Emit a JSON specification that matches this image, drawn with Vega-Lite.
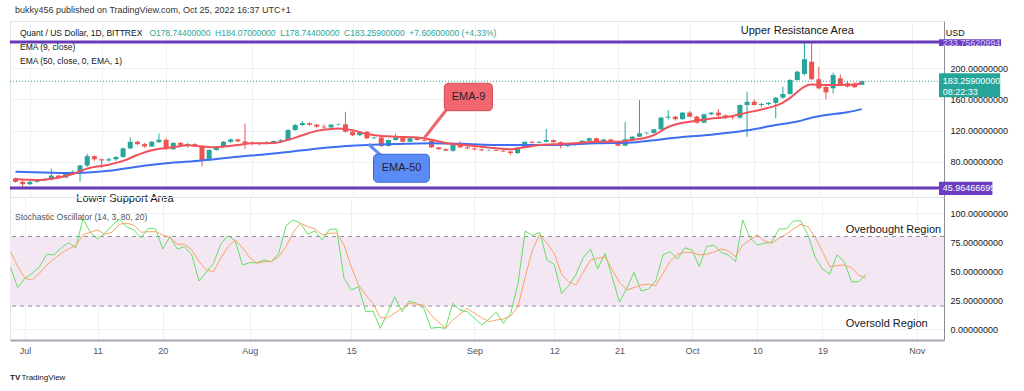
{
  "$schema": "https://vega.github.io/schema/vega-lite/v6.json",
  "background": "white",
  "padding": {"left": 8, "top": 5, "right": 10, "bottom": 3},
  "bounds": "flush",
  "spacing": 0,
  "config": {
    "font": "Liberation Sans",
    "view": {"stroke": "#e0e3eb"},
    "axis": {"labelFont": "Liberation Sans", "labelFontSize": 9, "labelColor": "#131722", "gridColor": "#edf0f5", "ticks": false, "title": null, "labelOverlap": false},
    "text": {"font": "Liberation Sans"}
  },
  "datasets": {
    "ohlc": [
      {"t":"2022-06-29","o":58.5,"h":59.5,"l":53,"c":54,"k":53.1,"d":66.9},
      {"t":"2022-06-30","o":54,"h":56,"l":46,"c":51,"k":35.9,"d":54.0},
      {"t":"2022-07-01","o":51,"h":55,"l":50,"c":54,"k":44.0,"d":44.0},
      {"t":"2022-07-02","o":54,"h":56.5,"l":53,"c":55.5,"k":48.3,"d":42.5},
      {"t":"2022-07-03","o":55.5,"h":58,"l":55,"c":57,"k":54.0,"d":48.3},
      {"t":"2022-07-04","o":57,"h":71,"l":56,"c":62,"k":64.7,"d":55.4},
      {"t":"2022-07-05","o":62,"h":63,"l":57.5,"c":59.5,"k":64.1,"d":60.6},
      {"t":"2022-07-06","o":59.5,"h":66,"l":59,"c":64.5,"k":70.3,"d":65.5},
      {"t":"2022-07-07","o":64.5,"h":69,"l":63.5,"c":67,"k":74.7,"d":69.2},
      {"t":"2022-07-08","o":66,"h":76,"l":54,"c":75,"k":70.3,"d":72.1},
      {"t":"2022-07-09","o":75,"h":90,"l":73,"c":87,"k":95.1,"d":81.3},
      {"t":"2022-07-10","o":87,"h":88,"l":81,"c":83,"k":83.6,"d":83.6},
      {"t":"2022-07-11","o":83,"h":84,"l":72,"c":81.5,"k":77.8,"d":85.6},
      {"t":"2022-07-12","o":81.5,"h":85,"l":80,"c":83,"k":82.8,"d":81.9},
      {"t":"2022-07-13","o":83,"h":87,"l":81,"c":86,"k":89.3,"d":83.6},
      {"t":"2022-07-14","o":86,"h":98,"l":85,"c":97,"k":95.1,"d":90.5},
      {"t":"2022-07-15","o":97,"h":111,"l":96,"c":105.5,"k":88.4,"d":91.4},
      {"t":"2022-07-16","o":105.5,"h":107,"l":101,"c":102.5,"k":85.6,"d":89.9},
      {"t":"2022-07-17","o":102.5,"h":104,"l":98,"c":99.5,"k":79.0,"d":83.6},
      {"t":"2022-07-18","o":99.5,"h":106.5,"l":99,"c":105.5,"k":87.1,"d":84.1},
      {"t":"2022-07-19","o":105,"h":116,"l":104,"c":108,"k":86.5,"d":84.1},
      {"t":"2022-07-20","o":108,"h":110,"l":95,"c":96,"k":69.2,"d":81.3},
      {"t":"2022-07-21","o":96,"h":105,"l":95,"c":104,"k":79.8,"d":79.0},
      {"t":"2022-07-22","o":104,"h":105,"l":100,"c":101.5,"k":69.2,"d":73.3},
      {"t":"2022-07-23","o":101,"h":104,"l":98,"c":102.5,"k":71.2,"d":73.3},
      {"t":"2022-07-24","o":102.5,"h":103.5,"l":99,"c":100,"k":64.1,"d":68.4},
      {"t":"2022-07-25","o":100,"h":101,"l":74,"c":82,"k":41.6,"d":58.3},
      {"t":"2022-07-26","o":82,"h":96,"l":81,"c":95,"k":49.1,"d":51.1},
      {"t":"2022-07-27","o":95,"h":100,"l":94,"c":99,"k":56.9,"d":49.7},
      {"t":"2022-07-28","o":99,"h":106.5,"l":98,"c":105.5,"k":73.3,"d":61.2},
      {"t":"2022-07-29","o":105.5,"h":110,"l":104,"c":108.5,"k":80.7,"d":71.2},
      {"t":"2022-07-30","o":108.5,"h":109.5,"l":105,"c":106,"k":76.1,"d":77.0},
      {"t":"2022-07-31","o":106,"h":129,"l":96,"c":104,"k":55.4,"d":70.3},
      {"t":"2022-08-01","o":104,"h":106,"l":101,"c":103.5,"k":57.4,"d":61.7},
      {"t":"2022-08-02","o":103.5,"h":105,"l":101,"c":103,"k":57.4,"d":56.9},
      {"t":"2022-08-03","o":103,"h":106,"l":102,"c":104.5,"k":59.7,"d":58.3},
      {"t":"2022-08-04","o":104.5,"h":107.5,"l":103.5,"c":106.5,"k":58.3,"d":58.3},
      {"t":"2022-08-05","o":106.5,"h":109,"l":104,"c":107.5,"k":65.5,"d":62.6},
      {"t":"2022-08-06","o":107.5,"h":122,"l":107,"c":120.5,"k":89.1,"d":71.2},
      {"t":"2022-08-07","o":120.5,"h":128.5,"l":120,"c":127,"k":94.2,"d":83.6},
      {"t":"2022-08-08","o":127,"h":132,"l":126,"c":129.5,"k":91.4,"d":91.4},
      {"t":"2022-08-09","o":129.5,"h":130.5,"l":126,"c":127.5,"k":81.9,"d":88.4},
      {"t":"2022-08-10","o":127.5,"h":128.5,"l":123.5,"c":125,"k":84.7,"d":86.5},
      {"t":"2022-08-11","o":125,"h":128,"l":122,"c":124,"k":77.0,"d":81.3},
      {"t":"2022-08-12","o":124,"h":128.5,"l":123.5,"c":127.5,"k":86.2,"d":82.8},
      {"t":"2022-08-13","o":127.5,"h":129,"l":126.5,"c":128,"k":86.2,"d":82.8},
      {"t":"2022-08-14","o":128,"h":144,"l":117,"c":118.5,"k":44.0,"d":72.7},
      {"t":"2022-08-15","o":118.5,"h":119,"l":113,"c":114,"k":33.9,"d":54.0},
      {"t":"2022-08-16","o":114,"h":119.5,"l":113,"c":118.5,"k":36.7,"d":38.2},
      {"t":"2022-08-17","o":118.5,"h":119,"l":109,"c":110,"k":15.2,"d":29.6},
      {"t":"2022-08-18","o":110,"h":112,"l":109.5,"c":111,"k":15.8,"d":22.4},
      {"t":"2022-08-19","o":111,"h":111.5,"l":99,"c":100,"k":0.9,"d":10.0},
      {"t":"2022-08-20","o":100,"h":108,"l":99.5,"c":107.8,"k":13.8,"d":10.0},
      {"t":"2022-08-21","o":107.8,"h":116,"l":107,"c":111,"k":28.1,"d":13.8},
      {"t":"2022-08-22","o":111,"h":112,"l":104.5,"c":105.6,"k":15.2,"d":18.1},
      {"t":"2022-08-23","o":105.6,"h":111,"l":105,"c":110,"k":24.4,"d":22.4},
      {"t":"2022-08-24","o":110,"h":111,"l":107,"c":107.8,"k":22.4,"d":21.6},
      {"t":"2022-08-25","o":107.8,"h":109,"l":106,"c":107,"k":18.1,"d":20.9},
      {"t":"2022-08-26","o":107,"h":107.5,"l":97.5,"c":98.3,"k":0.9,"d":12.3},
      {"t":"2022-08-27","o":98.3,"h":99,"l":95,"c":96,"k":1.7,"d":6.6},
      {"t":"2022-08-28","o":96,"h":97,"l":93.5,"c":94,"k":0.9,"d":0.9},
      {"t":"2022-08-29","o":94,"h":102,"l":92.7,"c":101.3,"k":22.4,"d":8.0},
      {"t":"2022-08-30","o":101.3,"h":106,"l":97.5,"c":98.3,"k":16.6,"d":12.9},
      {"t":"2022-08-31","o":98.3,"h":100,"l":96,"c":97,"k":15.2,"d":18.1},
      {"t":"2022-09-01","o":97,"h":98,"l":94.5,"c":95.8,"k":9.5,"d":13.8},
      {"t":"2022-09-02","o":95.8,"h":97,"l":93.5,"c":94.5,"k":3.7,"d":10.0},
      {"t":"2022-09-03","o":94.5,"h":95.5,"l":94,"c":95,"k":8.9,"d":6.6},
      {"t":"2022-09-04","o":95,"h":95.5,"l":93.5,"c":94,"k":14.7,"d":8.0},
      {"t":"2022-09-05","o":94,"h":95,"l":92,"c":93,"k":5.2,"d":8.9},
      {"t":"2022-09-06","o":93,"h":94,"l":88.5,"c":91,"k":13.8,"d":11.7},
      {"t":"2022-09-07","o":91,"h":98.5,"l":89.8,"c":98,"k":39.7,"d":19.5},
      {"t":"2022-09-08","o":98,"h":106,"l":97,"c":105.5,"k":84.7,"d":45.3},
      {"t":"2022-09-09","o":105.5,"h":106.5,"l":103.5,"c":104.3,"k":80.7,"d":68.4},
      {"t":"2022-09-10","o":104.3,"h":106,"l":103.5,"c":105.5,"k":83.6,"d":81.9},
      {"t":"2022-09-11","o":105.5,"h":122,"l":105,"c":107.8,"k":59.7,"d":74.1},
      {"t":"2022-09-12","o":107.8,"h":108.5,"l":104.5,"c":105,"k":56.0,"d":65.5},
      {"t":"2022-09-13","o":105,"h":106,"l":97,"c":100,"k":31.0,"d":47.4},
      {"t":"2022-09-14","o":100,"h":102,"l":99,"c":101.3,"k":37.6,"d":41.0},
      {"t":"2022-09-15","o":101.3,"h":104,"l":100.5,"c":103.5,"k":47.4,"d":38.2},
      {"t":"2022-09-16","o":103.5,"h":107.5,"l":103,"c":106.9,"k":61.7,"d":49.1},
      {"t":"2022-09-17","o":106.9,"h":111,"l":106,"c":110,"k":69.2,"d":59.7},
      {"t":"2022-09-18","o":110,"h":111,"l":104.5,"c":105.6,"k":52.0,"d":61.2},
      {"t":"2022-09-19","o":105.6,"h":109,"l":104,"c":108.5,"k":65.5,"d":62.6},
      {"t":"2022-09-20","o":108.5,"h":109,"l":103.5,"c":105,"k":45.0,"d":51.1},
      {"t":"2022-09-21","o":105,"h":106,"l":100,"c":100.5,"k":23.3,"d":40.5},
      {"t":"2022-09-22","o":100.5,"h":131,"l":100,"c":108.7,"k":35.3,"d":33.9},
      {"t":"2022-09-23","o":108.7,"h":113,"l":108,"c":112,"k":49.1,"d":35.9},
      {"t":"2022-09-24","o":112,"h":159,"l":111.5,"c":116.4,"k":33.0,"d":38.2},
      {"t":"2022-09-25","o":116.4,"h":118,"l":115,"c":117,"k":34.7,"d":38.8},
      {"t":"2022-09-26","o":117,"h":122,"l":116,"c":121.5,"k":41.6,"d":37.6},
      {"t":"2022-09-27","o":121.5,"h":137.5,"l":121,"c":136.5,"k":64.1,"d":48.3},
      {"t":"2022-09-28","o":136.5,"h":146.4,"l":134,"c":137.8,"k":66.9,"d":58.9},
      {"t":"2022-09-29","o":137.8,"h":139,"l":133,"c":134.5,"k":60.6,"d":64.7},
      {"t":"2022-09-30","o":134.5,"h":143.5,"l":134,"c":143,"k":70.3,"d":66.4},
      {"t":"2022-10-01","o":143,"h":145,"l":137,"c":137.8,"k":68.4,"d":66.4},
      {"t":"2022-10-02","o":137.8,"h":139,"l":129,"c":130,"k":54.0,"d":64.1},
      {"t":"2022-10-03","o":130,"h":141.5,"l":129.5,"c":140.8,"k":71.2,"d":64.7},
      {"t":"2022-10-04","o":140.8,"h":143.5,"l":139.5,"c":143,"k":72.7,"d":66.4},
      {"t":"2022-10-05","o":143,"h":147.3,"l":137,"c":139.5,"k":66.4,"d":69.2},
      {"t":"2022-10-06","o":139.5,"h":140.5,"l":135,"c":137,"k":64.1,"d":67.8},
      {"t":"2022-10-07","o":137,"h":138,"l":134,"c":136.5,"k":58.3,"d":62.6},
      {"t":"2022-10-08","o":136.5,"h":153.5,"l":135,"c":152.8,"k":94.2,"d":72.7},
      {"t":"2022-10-09","o":152.8,"h":170,"l":112,"c":157,"k":79.0,"d":77.0},
      {"t":"2022-10-10","o":157,"h":160,"l":152,"c":152.8,"k":72.7,"d":81.3},
      {"t":"2022-10-11","o":152.8,"h":155.5,"l":150,"c":154,"k":74.1,"d":76.1},
      {"t":"2022-10-12","o":154,"h":156.5,"l":152.5,"c":155.5,"k":75.0,"d":74.1},
      {"t":"2022-10-13","o":155.5,"h":163,"l":135.7,"c":162.2,"k":86.5,"d":78.3},
      {"t":"2022-10-14","o":162.2,"h":176.4,"l":161,"c":167,"k":86.5,"d":81.9},
      {"t":"2022-10-15","o":167,"h":186,"l":166,"c":185,"k":93.4,"d":86.5},
      {"t":"2022-10-16","o":185,"h":197,"l":184,"c":195.6,"k":93.4,"d":90.5},
      {"t":"2022-10-17","o":192.7,"h":233.8,"l":191,"c":211.6,"k":81.3,"d":88.4},
      {"t":"2022-10-18","o":208.5,"h":233.8,"l":185,"c":185.9,"k":61.7,"d":79.0},
      {"t":"2022-10-19","o":185.9,"h":202,"l":173,"c":174.3,"k":52.0,"d":66.9},
      {"t":"2022-10-20","o":176,"h":178,"l":160,"c":169,"k":47.4,"d":54.0},
      {"t":"2022-10-21","o":174.3,"h":194.4,"l":167.8,"c":191.4,"k":64.1,"d":54.8},
      {"t":"2022-10-22","o":187.1,"h":192,"l":178,"c":179.8,"k":58.3,"d":55.4},
      {"t":"2022-10-23","o":180.7,"h":183.7,"l":175.5,"c":176.5,"k":41.0,"d":53.1},
      {"t":"2022-10-24","o":179.8,"h":182,"l":175,"c":175.653,"k":41.0,"d":46.8},
      {"t":"2022-10-25","o":178.744,"h":184.07,"l":178.744,"c":183.259,"k":47.4,"d":44.0}
    ],
    "ema9": [
      {"t":"2022-06-29","v":57.5},{"t":"2022-07-02","v":56.3},{"t":"2022-07-04","v":58},{"t":"2022-07-07","v":64},
      {"t":"2022-07-09","v":71},{"t":"2022-07-12","v":76},{"t":"2022-07-14","v":81},{"t":"2022-07-16","v":88.5},
      {"t":"2022-07-18","v":94.5},{"t":"2022-07-21","v":98.5},{"t":"2022-07-23","v":101},{"t":"2022-07-25","v":99.5},
      {"t":"2022-07-27","v":98.5},{"t":"2022-07-30","v":101.3},{"t":"2022-08-01","v":103.5},{"t":"2022-08-04","v":104},
      {"t":"2022-08-06","v":108},{"t":"2022-08-08","v":114},{"t":"2022-08-10","v":119.5},{"t":"2022-08-12","v":122},
      {"t":"2022-08-13","v":122.5},{"t":"2022-08-15","v":120.5},{"t":"2022-08-17","v":115.5},{"t":"2022-08-19","v":113},
      {"t":"2022-08-21","v":112},{"t":"2022-08-24","v":111},{"t":"2022-08-26","v":108},{"t":"2022-08-28","v":104},
      {"t":"2022-08-31","v":101},{"t":"2022-09-02","v":99.2},{"t":"2022-09-04","v":97.1},{"t":"2022-09-06","v":95.8},
      {"t":"2022-09-08","v":98.4},{"t":"2022-09-10","v":101.3},{"t":"2022-09-13","v":102.6},{"t":"2022-09-15","v":103.5},
      {"t":"2022-09-18","v":105.6},{"t":"2022-09-21","v":105.6},{"t":"2022-09-23","v":107.8},{"t":"2022-09-25","v":111},
      {"t":"2022-09-26","v":114},{"t":"2022-09-28","v":124.5},{"t":"2022-09-30","v":130},{"t":"2022-10-02","v":132.5},
      {"t":"2022-10-04","v":135.5},{"t":"2022-10-06","v":137},{"t":"2022-10-09","v":143},{"t":"2022-10-11","v":147},
      {"t":"2022-10-13","v":152},{"t":"2022-10-14","v":156},{"t":"2022-10-15","v":162},{"t":"2022-10-16","v":169.5},
      {"t":"2022-10-17","v":176.5},{"t":"2022-10-18","v":179},{"t":"2022-10-20","v":178.5},{"t":"2022-10-22","v":178.5},
      {"t":"2022-10-24","v":179},{"t":"2022-10-25","v":181}
    ],
    "ema50": [
      {"t":"2022-06-29","v":67},{"t":"2022-07-03","v":66},{"t":"2022-07-07","v":65.2},{"t":"2022-07-10","v":66.5},
      {"t":"2022-07-12","v":68.3},{"t":"2022-07-16","v":73.5},{"t":"2022-07-20","v":77.8},{"t":"2022-07-25","v":81.5},
      {"t":"2022-07-30","v":86.3},{"t":"2022-08-03","v":89.5},{"t":"2022-08-08","v":94.5},{"t":"2022-08-12","v":98.5},
      {"t":"2022-08-17","v":101.3},{"t":"2022-08-21","v":102.6},{"t":"2022-08-26","v":103.5},{"t":"2022-08-31","v":102.6},
      {"t":"2022-09-04","v":101.5},{"t":"2022-09-09","v":101.3},{"t":"2022-09-13","v":101.8},{"t":"2022-09-18","v":103.5},
      {"t":"2022-09-23","v":104.5},{"t":"2022-09-25","v":106.5},{"t":"2022-09-30","v":111.5},{"t":"2022-10-04","v":114.5},
      {"t":"2022-10-09","v":120.2},{"t":"2022-10-13","v":127},{"t":"2022-10-16","v":131.5},{"t":"2022-10-18","v":136.5},
      {"t":"2022-10-20","v":139.9},{"t":"2022-10-23","v":143.5},{"t":"2022-10-25","v":147.5}
    ]
  },
  "vconcat": [
    {
      "width": 934,
      "height": 176,
      "layer": [
        {
          "data": {"name": "ohlc"},
          "mark": {"type": "rule", "clip": true, "strokeWidth": 1},
          "encoding": {
            "x": {"field": "t", "type": "temporal",
              "scale": {"type": "utc", "domain": [{"year":2022,"month":6,"date":28,"hours":22,"minutes":20,"utc":true},{"year":2022,"month":11,"date":4,"hours":18,"minutes":14,"utc":true}]},
              "axis": {"values": [{"year":2022,"month":7,"date":1,"utc":true},{"year":2022,"month":7,"date":11,"utc":true},{"year":2022,"month":7,"date":20,"utc":true},{"year":2022,"month":8,"date":1,"utc":true},{"year":2022,"month":8,"date":15,"utc":true},{"year":2022,"month":9,"date":1,"utc":true},{"year":2022,"month":9,"date":12,"utc":true},{"year":2022,"month":9,"date":21,"utc":true},{"year":2022,"month":10,"date":1,"utc":true},{"year":2022,"month":10,"date":10,"utc":true},{"year":2022,"month":10,"date":19,"utc":true},{"year":2022,"month":11,"date":1,"utc":true}],
                "tickCount": 30, "labels": false, "domain": false, "grid": true, "ticks": false, "title": null}},
            "y": {"field": "l", "type": "quantitative",
              "scale": {"domain": [34.5, 260.8], "nice": false, "zero": false},
              "axis": {"orient": "right", "values": [80, 120, 160, 200], "tickCount": 10, "format": ".8f", "grid": true, "domain": true, "domainColor": "#8a8d96", "labelPadding": 6, "title": null}},
            "y2": {"field": "h"},
            "color": {"condition": {"test": "datum.c >= datum.o", "value": "#26a69a"}, "value": "#ef5350"}
          }
        },
        {
          "data": {"name": "ohlc"},
          "mark": {"type": "bar", "width": 5, "clip": true, "minBandSize": 1},
          "encoding": {
            "x": {"field": "t", "type": "temporal"},
            "y": {"field": "o", "type": "quantitative"},
            "y2": {"field": "c"},
            "color": {"condition": {"test": "datum.c >= datum.o", "value": "#26a69a"}, "value": "#ef5350"}
          }
        },
        {
          "data": {"name": "ema50"},
          "mark": {"type": "line", "color": "#3f6ff0", "strokeWidth": 2, "interpolate": "monotone", "clip": true},
          "encoding": {"x": {"field": "t", "type": "temporal"}, "y": {"field": "v", "type": "quantitative"}}
        },
        {
          "data": {"name": "ema9"},
          "mark": {"type": "line", "color": "#f0515b", "strokeWidth": 2, "interpolate": "monotone", "clip": true},
          "encoding": {"x": {"field": "t", "type": "temporal"}, "y": {"field": "v", "type": "quantitative"}}
        },
        {
          "data": {"values": [{}]},
          "mark": {"type": "rule", "color": "#26a69a", "strokeDash": [1, 2], "strokeWidth": 1},
          "encoding": {"y": {"datum": 183.259, "type": "quantitative"}}
        },
        {
          "data": {"values": [{"level": 233.75620994}, {"level": 45.96466695}]},
          "mark": {"type": "rule", "color": "#673ab7", "strokeWidth": 3},
          "encoding": {"y": {"field": "level", "type": "quantitative"}}
        },
        {
          "data": {"values": [{}]},
          "mark": {"type": "rule", "color": "#ee6670", "strokeWidth": 3},
          "encoding": {
            "x": {"datum": {"year":2022,"month":8,"date":28,"hours":12,"utc":true}, "type": "temporal"},
            "y": {"datum": 151.5, "type": "quantitative"},
            "x2": {"datum": {"year":2022,"month":8,"date":25,"utc":true}},
            "y2": {"datum": 110.4}
          }
        },
        {
          "data": {"values": [{}]},
          "mark": {"type": "rect", "fill": "#f1666f", "stroke": "#cf4a53", "strokeWidth": 1, "cornerRadius": 4},
          "encoding": {
            "x": {"datum": {"year":2022,"month":8,"date":27,"hours":19,"utc":true}, "type": "temporal"},
            "x2": {"datum": {"year":2022,"month":9,"date":3,"hours":12,"utc":true}},
            "y": {"datum": 180.7, "type": "quantitative"},
            "y2": {"datum": 145.5}
          }
        },
        {
          "data": {"values": [{}]},
          "mark": {"type": "text", "text": "EMA-9", "fontSize": 11, "color": "#1e2230", "align": "center", "baseline": "middle"},
          "encoding": {
            "x": {"datum": {"year":2022,"month":8,"date":31,"hours":4,"utc":true}, "type": "temporal"},
            "y": {"datum": 163, "type": "quantitative"}
          }
        },
        {
          "data": {"values": [{}]},
          "mark": {"type": "rule", "color": "#5b8cf5", "strokeWidth": 3},
          "encoding": {
            "x": {"datum": {"year":2022,"month":8,"date":19,"hours":5,"utc":true}, "type": "temporal"},
            "y": {"datum": 85.7, "type": "quantitative"},
            "x2": {"datum": {"year":2022,"month":8,"date":17,"hours":5,"utc":true}},
            "y2": {"datum": 102.6}
          }
        },
        {
          "data": {"values": [{}]},
          "mark": {"type": "rect", "fill": "#5b8cf5", "stroke": "#3b69d6", "strokeWidth": 1, "cornerRadius": 4},
          "encoding": {
            "x": {"datum": {"year":2022,"month":8,"date":17,"hours":22,"utc":true}, "type": "temporal"},
            "x2": {"datum": {"year":2022,"month":8,"date":25,"hours":17,"utc":true}},
            "y": {"datum": 89.5, "type": "quantitative"},
            "y2": {"datum": 53.5}
          }
        },
        {
          "data": {"values": [{}]},
          "mark": {"type": "text", "text": "EMA-50", "fontSize": 11, "color": "#1e2230", "align": "center", "baseline": "middle"},
          "encoding": {
            "x": {"datum": {"year":2022,"month":8,"date":21,"hours":20,"utc":true}, "type": "temporal"},
            "y": {"datum": 71.5, "type": "quantitative"}
          }
        },
        {
          "data": {"values": [{}]},
          "mark": {"type": "rect", "fill": "#6a3dc2"},
          "encoding": {
            "x": {"datum": {"year":2022,"month":11,"date":4,"hours":18,"minutes":14,"utc":true}, "type": "temporal"},
            "x2": {"datum": {"year":2022,"month":11,"date":13,"hours":10,"utc":true}},
            "y": {"datum": 237.3, "type": "quantitative"},
            "y2": {"datum": 228.7}
          }
        },
        {
          "data": {"values": [{}]},
          "mark": {"type": "text", "text": "233.75620994", "fontSize": 9, "color": "#d9cdf2", "align": "left", "baseline": "middle"},
          "encoding": {
            "x": {"datum": {"year":2022,"month":11,"date":5,"hours":7,"utc":true}, "type": "temporal"},
            "y": {"datum": 233.0, "type": "quantitative"}
          }
        },
        {
          "data": {"values": [{}]},
          "mark": {"type": "rect", "fill": "#26a69a"},
          "encoding": {
            "x": {"datum": {"year":2022,"month":11,"date":4,"hours":18,"minutes":14,"utc":true}, "type": "temporal"},
            "x2": {"datum": {"year":2022,"month":11,"date":13,"hours":7,"utc":true}},
            "y": {"datum": 193.5, "type": "quantitative"},
            "y2": {"datum": 162.7}
          }
        },
        {
          "data": {"values": [{"label": "183.25900000", "p": 183.3}, {"label": "08:22:33", "p": 169.5}]},
          "mark": {"type": "text", "fontSize": 9, "color": "#ffffff", "align": "left", "baseline": "middle"},
          "encoding": {
            "x": {"datum": {"year":2022,"month":11,"date":5,"hours":7,"utc":true}, "type": "temporal"},
            "y": {"field": "p", "type": "quantitative"},
            "text": {"field": "label"}
          }
        },
        {
          "data": {"values": [{}]},
          "mark": {"type": "rect", "fill": "#6a3dc2"},
          "encoding": {
            "x": {"datum": {"year":2022,"month":11,"date":4,"hours":18,"minutes":14,"utc":true}, "type": "temporal"},
            "x2": {"datum": {"year":2022,"month":11,"date":12,"hours":5,"utc":true}},
            "y": {"datum": 54.2, "type": "quantitative"},
            "y2": {"datum": 37.1}
          }
        },
        {
          "data": {"values": [{}]},
          "mark": {"type": "text", "text": "45.96466695", "fontSize": 9, "color": "#ffffff", "align": "left", "baseline": "middle"},
          "encoding": {
            "x": {"datum": {"year":2022,"month":11,"date":5,"hours":7,"utc":true}, "type": "temporal"},
            "y": {"datum": 46.0, "type": "quantitative"}
          }
        },
        {
          "data": {"values": [{}]},
          "mark": {"type": "text", "text": "USD", "fontSize": 9, "color": "#131722", "align": "left", "baseline": "middle"},
          "encoding": {
            "x": {"datum": {"year":2022,"month":11,"date":5,"hours":17,"utc":true}, "type": "temporal"},
            "y": {"datum": 245.4, "type": "quantitative"}
          }
        },
        {
          "data": {"values": [{}]},
          "mark": {"type": "text", "text": "bukky456 published on TradingView.com, Oct 25, 2022 16:37 UTC+1", "fontSize": 9, "color": "#333333", "align": "left", "baseline": "top"},
          "encoding": {
            "x": {"datum": {"year":2022,"month":6,"date":28,"hours":22,"minutes":20,"utc":true}, "type": "temporal"},
            "y": {"datum": 280.1, "type": "quantitative"}
          }
        },
        {
          "data": {"values": [{"label": "Quant / US Dollar, 1D, BITTREX", "p": 245.4}, {"label": "EMA (9, close)", "p": 227.4}, {"label": "EMA (50, close, 0, EMA, 1)", "p": 209.4}]},
          "mark": {"type": "text", "fontSize": 8.5, "color": "#131722", "align": "left", "baseline": "middle"},
          "encoding": {
            "x": {"datum": {"year":2022,"month":6,"date":29,"hours":15,"utc":true}, "type": "temporal"},
            "y": {"field": "p", "type": "quantitative"},
            "text": {"field": "label"}
          }
        },
        {
          "data": {"values": [{}]},
          "mark": {"type": "text", "text": "O178.74400000\u00a0\u00a0H184.07000000\u00a0\u00a0L178.74400000\u00a0\u00a0C183.25900000\u00a0\u00a0+7.60600000 (+4.33%)", "fontSize": 8.5, "color": "#26a69a", "align": "left", "baseline": "middle"},
          "encoding": {
            "x": {"datum": {"year":2022,"month":7,"date":17,"hours":16,"utc":true}, "type": "temporal"},
            "y": {"datum": 245.4, "type": "quantitative"}
          }
        },
        {
          "data": {"values": [{}]},
          "mark": {"type": "text", "text": "Upper Resistance Area", "fontSize": 11, "color": "#131722", "align": "center", "baseline": "middle"},
          "encoding": {
            "x": {"datum": {"year":2022,"month":10,"date":16,"utc":true}, "type": "temporal"},
            "y": {"datum": 248, "type": "quantitative"}
          }
        },
        {
          "data": {"values": [{}]},
          "mark": {"type": "text", "text": "Lower Support Area", "fontSize": 11, "color": "#131722", "align": "center", "baseline": "middle"},
          "encoding": {
            "x": {"datum": {"year":2022,"month":7,"date":14,"hours":6,"utc":true}, "type": "temporal"},
            "y": {"datum": 31.9, "type": "quantitative"}
          }
        }
      ]
    },
    {
      "width": 934,
      "height": 143,
      "layer": [
        {
          "data": {"values": [{}]},
          "mark": {"type": "rect", "fill": "#f3e7f4"},
          "encoding": {
            "x": {"datum": {"year":2022,"month":6,"date":28,"hours":22,"minutes":20,"utc":true}, "type": "temporal"},
            "x2": {"datum": {"year":2022,"month":11,"date":4,"hours":18,"minutes":14,"utc":true}},
            "y": {"datum": 80, "type": "quantitative"},
            "y2": {"datum": 20}
          }
        },
        {
          "data": {"values": [{"level": 80}, {"level": 20}]},
          "mark": {"type": "rule", "color": "#8c8f98", "strokeDash": [4, 4], "strokeWidth": 1},
          "encoding": {"y": {"field": "level", "type": "quantitative"}}
        },
        {
          "data": {"name": "ohlc"},
          "mark": {"type": "line", "color": "#62e062", "strokeWidth": 1, "clip": true},
          "encoding": {
            "x": {"field": "t", "type": "temporal",
              "scale": {"type": "utc", "domain": [{"year":2022,"month":6,"date":28,"hours":22,"minutes":20,"utc":true},{"year":2022,"month":11,"date":4,"hours":18,"minutes":14,"utc":true}]},
              "axis": {"values": [{"year":2022,"month":7,"date":1,"utc":true},{"year":2022,"month":7,"date":11,"utc":true},{"year":2022,"month":7,"date":20,"utc":true},{"year":2022,"month":8,"date":1,"utc":true},{"year":2022,"month":8,"date":15,"utc":true},{"year":2022,"month":9,"date":1,"utc":true},{"year":2022,"month":9,"date":12,"utc":true},{"year":2022,"month":9,"date":21,"utc":true},{"year":2022,"month":10,"date":1,"utc":true},{"year":2022,"month":10,"date":10,"utc":true},{"year":2022,"month":10,"date":19,"utc":true},{"year":2022,"month":11,"date":1,"utc":true}],
                "tickCount": 30,
                "labelExpr": "utcFormat(datum.value, '%d') == '01' ? utcFormat(datum.value, '%b') : utcFormat(datum.value, '%d')",
                "labelColor": "#50535e", "labelPadding": 6, "domain": true, "domainColor": "#a3a6af", "domainWidth": 2, "grid": true, "ticks": false, "title": null}},
            "y": {"field": "k", "type": "quantitative",
              "scale": {"domain": [-9.2, 114], "nice": false, "zero": false},
              "axis": {"orient": "right", "values": [0, 25, 50, 75, 100], "tickCount": 10, "format": ".8f", "grid": true, "domain": true, "domainColor": "#8a8d96", "labelPadding": 6, "labelOverlap": false, "title": null}}
          }
        },
        {
          "data": {"name": "ohlc"},
          "mark": {"type": "line", "color": "#f7a463", "strokeWidth": 1, "clip": true},
          "encoding": {
            "x": {"field": "t", "type": "temporal"},
            "y": {"field": "d", "type": "quantitative"}
          }
        },
        {
          "data": {"values": [{}]},
          "mark": {"type": "text", "text": "Stochastic Oscillator (14, 3, 80, 20)", "fontSize": 8.5, "color": "#50535e", "align": "left", "baseline": "middle"},
          "encoding": {
            "x": {"datum": {"year":2022,"month":6,"date":29,"hours":15,"utc":true}, "type": "temporal"},
            "y": {"datum": 96.8, "type": "quantitative"}
          }
        },
        {
          "data": {"values": [{"label": "Overbought Region", "p": 85.6}, {"label": "Oversold Region", "p": 4.3}]},
          "mark": {"type": "text", "fontSize": 11, "color": "#131722", "align": "left", "baseline": "middle"},
          "encoding": {
            "x": {"datum": {"year":2022,"month":10,"date":22,"hours":5,"utc":true}, "type": "temporal"},
            "y": {"field": "p", "type": "quantitative"},
            "text": {"field": "label"}
          }
        },
        {
          "data": {"values": [{}]},
          "mark": {"type": "text", "text": "TV", "fontSize": 8, "fontWeight": "bold", "color": "#131722", "align": "left", "baseline": "middle"},
          "encoding": {
            "x": {"datum": {"year":2022,"month":6,"date":28,"hours":22,"minutes":20,"utc":true}, "type": "temporal"},
            "y": {"datum": -41.9, "type": "quantitative"}
          }
        },
        {
          "data": {"values": [{}]},
          "mark": {"type": "text", "text": "TradingView", "fontSize": 8, "color": "#131722", "align": "left", "baseline": "middle"},
          "encoding": {
            "x": {"datum": {"year":2022,"month":6,"date":30,"hours":12,"utc":true}, "type": "temporal"},
            "y": {"datum": -41.9, "type": "quantitative"}
          }
        }
      ]
    }
  ]
}
